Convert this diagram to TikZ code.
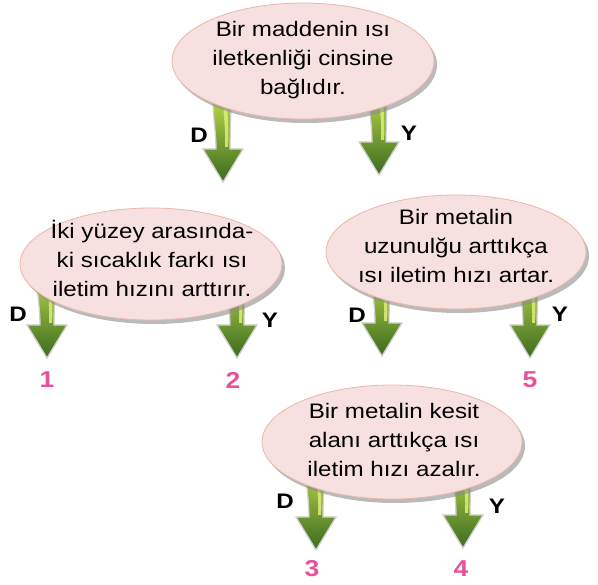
\documentclass[tikz,border=0pt]{standalone}
\usepackage{fontspec}
\setmainfont{Liberation Sans}
\newfontfamily\wfont[FakeStretch=1.15]{Liberation Sans}
\usetikzlibrary{shadows,backgrounds}
\definecolor{ellfill}{HTML}{F6E1E0}
\definecolor{elldraw}{HTML}{E8B8AC}
\definecolor{arrlight}{HTML}{B4D244}
\definecolor{arrdark}{HTML}{3C6A22}
\definecolor{arrhigh}{HTML}{DDEE78}
\definecolor{numpink}{HTML}{E8509A}
\tikzset{
  bubble/.style={fill=ellfill, draw=elldraw, line width=0.8pt,
    drop shadow={shadow xshift=3pt, shadow yshift=-4pt, fill=black!45, opacity=0.6}},
  bubtext/.style={align=center, inner sep=0pt, font=\wfont\fontsize{21}{29}\selectfont},
  dylabel/.style={inner sep=0pt, font=\wfont\bfseries\fontsize{21}{21}\selectfont},
  numlabel/.style={inner sep=0pt, text=numpink, font=\wfont\bfseries\fontsize{23}{23}\selectfont},
  garrow/.pic={
    \path[draw=black!18, line width=1.3pt, top color=arrlight, bottom color=arrdark]
      (0,0) -- (-20,-33) -- (-7,-33) .. controls (-7,-50) and (-10,-65) .. (-10,-80)
      -- (8,-80) .. controls (8,-65) and (7,-50) .. (7,-33) -- (20,-33) -- cycle;
    \fill[arrhigh, opacity=0.85]
      (0,-80) .. controls (1,-62) and (3,-48) .. (2,-35) -- (5,-35)
      .. controls (6,-48) and (5,-62) .. (4,-80) -- cycle;
  }
}
\begin{document}
\begin{tikzpicture}[x=1pt,y=-1pt]
\useasboundingbox (0,0) rectangle (598,585);

% arrow tips
\coordinate (t1d) at (223,182);
\coordinate (t1y) at (379,175);
\coordinate (t2d) at (47,358);
\coordinate (t2y) at (237,358);
\coordinate (t3d) at (382,356);
\coordinate (t3y) at (530,358);
\coordinate (t4d) at (316,550);
\coordinate (t4y) at (463,548);

% arrows (behind ellipses)
\foreach \t in {t1d,t1y,t2d,t2y,t3d,t3y,t4d,t4y}{
  \pic at (\t) {garrow};
}

% ellipses
\path[bubble] (303,61) ellipse [x radius=131, y radius=58];
\path[bubble] (151,264) ellipse [x radius=131, y radius=56];
\path[bubble] (456,252) ellipse [x radius=130, y radius=57];
\path[bubble] (392,442) ellipse [x radius=130, y radius=57];

% texts
\node[bubtext] (e1) at (303,60) {Bir maddenin ısı\\iletkenliği cinsine\\bağlıdır.};
\node[bubtext] (e2) at (152,258) {İki yüzey arasında-\\ki sıcaklık farkı ısı\\iletim hızını arttırır.};
\node[bubtext] (e3) at (456,246) {Bir metalin\\uzunulğu arttıkça\\ısı iletim hızı artar.};
\node[bubtext] (e4) at (394,440) {Bir metalin kesit\\alanı arttıkça ısı\\iletim hızı azalır.};

% D / Y labels
\node[dylabel] (d1) at (199,135) {D};
\node[dylabel] (y1) at (409,133) {Y};
\node[dylabel] (d2) at (18,314) {D};
\node[dylabel] (y2) at (270,320) {Y};
\node[dylabel] (d3) at (357,315) {D};
\node[dylabel] (y3) at (560,314) {Y};
\node[dylabel] (d4) at (285,501) {D};
\node[dylabel] (y4) at (497,506) {Y};

% numbers
\node[numlabel] (n1) at (47,380) {1};
\node[numlabel] (n2) at (233,380) {2};
\node[numlabel] (n5) at (530,380) {5};
\node[numlabel] (n3) at (312,569) {3};
\node[numlabel] (n4) at (461,569) {4};
\end{tikzpicture}
\end{document}
